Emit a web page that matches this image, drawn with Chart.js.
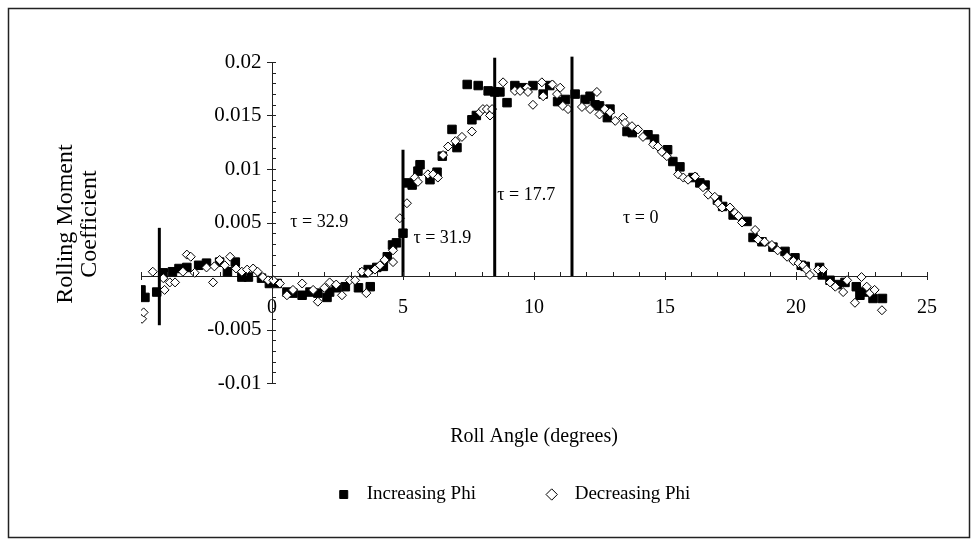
<!DOCTYPE html>
<html>
<head>
<meta charset="utf-8">
<script src="https://cdn.jsdelivr.net/npm/chart.js@4.4.0/dist/chart.umd.min.js"></script>
<style>
  body { margin: 0; background: #fff; }
  canvas { display: block; }
</style>
</head>
<body>
<canvas id="rollChart" width="977" height="546"></canvas>
<script>
/* ==============================================
   DATA
   ============================================== */
const incPhiX = [-5.0, -4.85, -4.4, -4.15, -3.8, -3.55, -3.25, -2.8, -2.5, -2.0, -1.7, -1.4, -1.15, -0.9, -0.4, -0.1,
  0.2, 0.57, 0.8, 1.15, 1.45, 1.75, 2.1, 2.2, 2.45, 2.8, 3.3, 3.5, 3.67, 3.75, 4.0, 4.25, 4.4, 4.6, 4.75, 5.0,
  5.2, 5.35, 5.57, 5.65, 6.03, 6.3, 6.5, 6.87, 7.06, 7.45, 7.63, 7.8, 7.87, 8.25, 8.5, 8.7, 8.97, 9.27, 9.55, 9.96,
  10.35, 10.6, 10.9, 11.2, 11.57, 11.95, 12.14, 12.33, 12.5, 12.8, 12.9, 13.55, 13.75, 14.35, 14.6, 15.1, 15.3, 15.57,
  16.07, 16.33, 16.53, 17.0, 17.2, 17.6, 18.13, 18.36, 18.7, 19.12, 19.58, 19.96, 20.2, 20.35, 20.9, 21.0, 21.3, 21.57,
  21.87, 22.3, 22.44, 22.63, 22.94, 23.3];
const incPhiY = [-0.0013, -0.002, -0.0015, 0.0003, 0.0004, 0.0007, 0.0008, 0.001, 0.0012, 0.0013, 0.0004, 0.0013, -0.0001, -0.0001, -0.0002, -0.0007,
  -0.0007, -0.0015, -0.0016, -0.0018, -0.0015, -0.0016, -0.002, -0.0015, -0.0011, -0.001, -0.0011, 0.0003, 0.0006, -0.001, 0.0008, 0.0009, 0.0018, 0.0029, 0.0031, 0.004,
  0.0087, 0.0085, 0.0098, 0.0104, 0.009, 0.0097, 0.0112, 0.0137, 0.012, 0.0179, 0.0146, 0.015, 0.0178, 0.0173, 0.0172, 0.0172, 0.0162, 0.0178, 0.0176, 0.0178,
  0.017, 0.0178, 0.0163, 0.0165, 0.017, 0.0165, 0.0168, 0.016, 0.0159, 0.0148, 0.0156, 0.0135, 0.0134, 0.0132, 0.0128, 0.0118, 0.0107, 0.0102,
  0.0092, 0.0087, 0.0085, 0.0071, 0.0065, 0.0057, 0.0051, 0.0036, 0.0032, 0.0027, 0.0023, 0.0017, 0.001, 0.0009, 0.0008, 0.0001, -0.0004, -0.0008,
  -0.0006, -0.001, -0.0018, -0.0015, -0.0021, -0.0021];

const decPhiX = [-4.96, -4.9, -4.55, -4.15, -4.1, -3.9, -3.7, -3.4, -3.25, -3.1, -2.95, -2.5, -2.25, -2.2, -2.0, -1.8, -1.6, -1.37, -1.15, -0.95,
  -0.72, -0.55, -0.35, -0.15, 0.05, 0.3, 0.57, 0.8, 1.15, 1.57, 1.75, 2.0, 2.2, 2.45, 2.67, 2.97, 3.17, 3.43, 3.6, 3.67, 3.93, 4.12, 4.3,
  4.62, 4.62, 4.88, 5.15, 5.45, 5.57, 5.95, 6.15, 6.33, 6.53, 6.72, 7.0, 7.25, 7.63, 7.94, 8.05, 8.2, 8.32, 8.4, 8.82, 9.27, 9.47, 9.73,
  9.77, 9.96, 10.3, 10.35, 10.7, 10.88, 11.0, 11.1, 11.3, 11.83, 12.14, 12.4, 12.5, 12.7, 12.9, 13.1, 13.4, 13.47, 13.74, 13.97, 14.16,
  14.55, 14.73, 14.88, 15.07, 15.5, 15.7, 15.88, 16.15, 16.45, 16.65, 16.9, 17.03, 17.18, 17.48, 17.67, 17.8, 17.94, 18.44, 18.55, 18.8,
  19.08, 19.3, 19.66, 19.9, 20.1, 20.27, 20.4, 20.53, 20.84, 21.03, 21.3, 21.5, 21.8, 21.95, 22.25, 22.5, 22.7, 22.82, 23.0, 23.28];
const decPhiY = [-0.004, -0.0034, 0.0004, -0.0002, -0.0013, -0.0006, -0.0006, 0.0004, 0.002, 0.0018, 0.0003, 0.0008, -0.0006, 0.0009, 0.0015, 0.001, 0.0018, 0.0007, 0.0004, 0.0006,
  0.0007, 0.0004, -0.0001, -0.0004, -0.0004, -0.0007, -0.0018, -0.0013, -0.0007, -0.0013, -0.0024, -0.0011, -0.0006, -0.0008, -0.0018, -0.0004, -0.0004, 0.0004, -0.0016, 0.0003, 0.0006, 0.001, 0.0015,
  0.0013, 0.0024, 0.0054, 0.0068, 0.0092, 0.0088, 0.0095, 0.0095, 0.0092, 0.0113, 0.0121, 0.0126, 0.013, 0.0135, 0.0153, 0.0156, 0.0156, 0.015, 0.0156, 0.0181, 0.0173, 0.0173, 0.0176,
  0.0172, 0.016, 0.0181, 0.0168, 0.0179, 0.017, 0.0176, 0.0159, 0.0156, 0.0158, 0.0156, 0.0172, 0.0151, 0.0156, 0.0153, 0.0145, 0.0148, 0.0143, 0.014, 0.0137, 0.013,
  0.0123, 0.0121, 0.0116, 0.0112, 0.0095, 0.0092, 0.009, 0.0093, 0.0083, 0.0076, 0.0074, 0.0068, 0.0064, 0.0064, 0.0059, 0.0056, 0.005, 0.0043, 0.0034, 0.0032,
  0.0029, 0.0024, 0.0018, 0.0014, 0.0012, 0.001, 0.0006, 0.0001, 0.0006, 0.0006, -0.0006, -0.001, -0.0015, -0.0004, -0.0025, -0.0001, -0.001, -0.0016, -0.0013, -0.0032];

// vertical separators and their tau labels
const lineX = [-4.3, 5.0, 8.5, 11.45];
const lineTop = [0.0045, 0.0118, 0.0204, 0.0205];
const lineBottom = [-0.0046, 0, 0, 0];
const tauLabels = ['τ = 32.9', 'τ = 31.9', 'τ = 17.7', 'τ = 0'];
const tauX = [0.7, 5.4, 8.6, 13.4];
const tauY = [0.005, 0.0035, 0.0075, 0.0054];

const xTickValues = [-5, 0, 5, 10, 15, 20, 25];
const xTickLabels = ['', '0', '5', '10', '15', '20', '25'];
const yTickValues = [-0.01, -0.005, 0, 0.005, 0.01, 0.015, 0.02];
const yTickLabels = ['-0.01', '-0.005', '', '0.005', '0.01', '0.015', '0.02'];

const FONT = "'Liberation Serif', 'Times New Roman', serif";

/* ==============================================
   PLUGINS
   ============================================== */
const frameAndTitles = {
    id: 'frameAndTitles',
    beforeDraw(chart) {
        const ctx = chart.ctx;
        ctx.save();
        ctx.fillStyle = '#fff';
        ctx.fillRect(0, 0, chart.width, chart.height);
        ctx.strokeStyle = '#222';
        ctx.lineWidth = 1.5;
        ctx.strokeRect(8.5, 8.5, 961, 529);
        ctx.restore();
    },
    afterDraw(chart) {
        const ctx = chart.ctx;
        const xs = chart.scales.x, ys = chart.scales.y;
        const x0 = xs.getPixelForValue(0), y0 = ys.getPixelForValue(0);
        ctx.save();
        ctx.strokeStyle = '#222';
        ctx.lineWidth = 1;
        ctx.beginPath();
        for (let i = -5; i <= 25; i++) {
            const px = Math.round(xs.getPixelForValue(i)) + 0.5;
            ctx.moveTo(px, y0 - 4);
            ctx.lineTo(px, i % 5 === 0 ? y0 + 4 : y0);
        }
        for (let k = -10; k <= 20; k++) {
            const py = Math.round(ys.getPixelForValue(k / 1000)) + 0.5;
            ctx.moveTo(k % 5 === 0 ? x0 - 5 : x0, py);
            ctx.lineTo(x0 + 4, py);
        }
        ctx.stroke();

        // tau annotations
        ctx.fillStyle = '#000';
        ctx.font = '18px ' + FONT;
        ctx.textBaseline = 'middle';
        ctx.textAlign = 'left';
        tauLabels.forEach((t, i) => {
            ctx.fillText(t, xs.getPixelForValue(tauX[i]), ys.getPixelForValue(tauY[i]));
        });

        // y axis title (two lines, rotated)
        ctx.font = '24px ' + FONT;
        ctx.textAlign = 'center';
        ctx.translate(78, 224);
        ctx.rotate(-Math.PI / 2);
        ctx.fillText('Rolling Moment', 0, -12);
        ctx.fillText('Coefficient', 0, 12);
        ctx.restore();
    }
};

/* ==============================================
   CHART
   ============================================== */
function buildLines() {
    return lineX.map((x, i) => ({
        type: 'line',
        label: 'sep' + i,
        data: [{ x: x, y: lineBottom[i] }, { x: x, y: lineTop[i] }],
        borderColor: '#000',
        borderWidth: 3,
        pointRadius: 0,
        showLine: true,
        clip: false,
        order: 0
    }));
}

// spaces round the legend texts copy the wider gaps of the original legend
const legendGap = ['             ', '        '];

const ctx = document.getElementById('rollChart').getContext('2d');
const rollChart = new Chart(ctx, {
    type: 'scatter',
    data: {
        datasets: [
            {
                label: 'Increasing Phi',
                data: incPhiX.map((x, i) => ({ x: x, y: incPhiY[i] })),
                pointStyle: 'rect',
                pointRadius: 6,
                backgroundColor: '#000',
                borderColor: '#000',
                borderWidth: 1,
                order: 2
            },
            {
                label: 'Decreasing Phi',
                data: decPhiX.map((x, i) => ({ x: x, y: decPhiY[i] })),
                pointStyle: 'rectRot',
                pointRadius: 4.5,
                backgroundColor: '#fff',
                borderColor: '#000',
                borderWidth: 1,
                order: 1
            },
            ...buildLines()
        ]
    },
    options: {
        responsive: false,
        animation: false,
        layout: { padding: { left: 141, right: 50, top: 62, bottom: 32 } },
        plugins: {
            tooltip: { enabled: false },
            title: {
                display: true,
                position: 'bottom',
                weight: 500,
                text: 'Roll Angle (degrees)',
                color: '#000',
                font: { family: FONT, size: 20, weight: 'normal' },
                padding: { top: 42, bottom: 26 }
            },
            legend: {
                position: 'bottom',
                labels: {
                    generateLabels: chart => Chart.defaults.plugins.legend.labels.generateLabels(chart)
                        .filter(item => item.datasetIndex < 2)
                        .sort((a, b) => a.datasetIndex - b.datasetIndex)
                        .map(item => ({ ...item, text: '  ' + item.text + legendGap[item.datasetIndex] })),
                    usePointStyle: true,
                    boxWidth: 8,
                    boxHeight: 8,
                    padding: 10,
                    color: '#000',
                    font: { family: FONT, size: 19 }
                }
            }
        },
        scales: {
            x: {
                type: 'linear',
                min: -5,
                max: 25,
                position: { y: 0 },
                afterBuildTicks: s => { s.ticks = xTickValues.map(v => ({ value: v })); },
                grid: { display: false, drawTicks: false },
                border: { display: true, color: '#222', width: 1 },
                ticks: {
                    padding: 20,
                    maxRotation: 0,
                    color: '#000',
                    font: { family: FONT, size: 20 },
                    callback: (v, i) => xTickLabels[i]
                }
            },
            y: {
                type: 'linear',
                min: -0.01,
                max: 0.02,
                position: { x: 0 },
                afterBuildTicks: s => { s.ticks = yTickValues.map(v => ({ value: v })); },
                grid: { display: false, drawTicks: false },
                border: { display: true, color: '#222', width: 1 },
                ticks: {
                    color: '#000',
                    font: { family: FONT, size: 21 },
                    // the label padding is not applied to an axis placed at x = 0
                    callback: (v, i) => yTickLabels[i] + '  '
                }
            }
        }
    },
    plugins: [frameAndTitles]
});
</script>
</body>
</html>
